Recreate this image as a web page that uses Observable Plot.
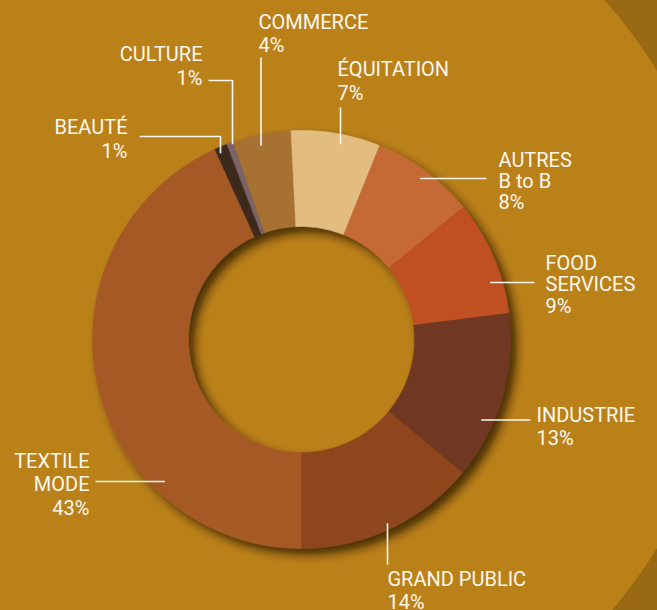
<!DOCTYPE html>
<html><head><meta charset="utf-8">
<script src="https://cdn.jsdelivr.net/npm/d3@7"></script>
<script src="https://cdn.jsdelivr.net/npm/@observablehq/plot@0.6"></script>
<style>
html,body{margin:0;padding:0;overflow:hidden;background:#9A6914;width:657px;height:610px;}
#chart svg{display:block;}
</style>
</head><body><div id="chart"></div>
<script>
// ---- data ----
const categories = ["TEXTILE MODE","BEAUTÉ","CULTURE","COMMERCE","ÉQUITATION","AUTRES B to B","FOOD SERVICES","INDUSTRIE","GRAND PUBLIC"];
const labelLines = [["TEXTILE","MODE"],["BEAUTÉ"],["CULTURE"],["COMMERCE"],["ÉQUITATION"],["AUTRES","B to B"],["FOOD","SERVICES"],["INDUSTRIE"],["GRAND PUBLIC"]];
const shares = [43.2, 1.0, 0.5, 4.5, 6.9, 8.0, 8.9, 13.0, 14.0];
const percentLabels = ["43%","1%","1%","4%","7%","8%","9%","13%","14%"];
const colors = ["#A55A25","#3D2B1F","#7B6468","#A77130","#E3BC80","#C66A36","#C04F20","#703822","#8E461D"];

// ---- layout (pixels) ----
const W = 657, H = 610;
const cx = 301, cy = 339, rOuter = 209, rInner = 113;
const bg = {x: 262, y: 309, r: 461, fill: "#BB8119"};
const layout = [
  {anchor:"end",   x:89,  y:467, lh:23.5, leader:{type:"h", x0:95,  y:481,   r:197}},
  {anchor:"end",   x:127, y:133, lh:24,   leader:{type:"elbow", x0:139, y:136, x:220, r:203}},
  {anchor:"end",   x:202, y:60,  lh:24,   leader:{type:"elbow", x0:208, y:80,  x:232, r:207}},
  {anchor:"start", x:258, y:28,  lh:23,   leader:{type:"v", x:260.5, y0:57,  r:198}},
  {anchor:"start", x:337, y:75,  lh:24,   leader:{type:"v", x:340,   y0:107, r:199}},
  {anchor:"start", x:498, y:166, lh:21,   leader:{type:"h", x0:486, y:178,   r:200}},
  {anchor:"start", x:545, y:269, lh:21.5, leader:{type:"h", x0:534, y:282,   r:197}},
  {anchor:"start", x:536, y:421, lh:23,   leader:{type:"h", x0:530, y:419.5, r:197}},
  {anchor:"start", x:387, y:585, lh:23,   leader:{type:"v", x:387,   y0:564, r:203}}
];

// ---- slices from pie angles ----
const arcs = d3.pie().sort(null).startAngle(Math.PI).endAngle(3 * Math.PI)(shares);
const slicePts = [];
arcs.forEach((a, i) => {
  const n = Math.max(2, Math.ceil((a.endAngle - a.startAngle) / (Math.PI / 360)));
  const pts = [];
  for (let k = 0; k <= n; k++) {
    const t = a.startAngle + (a.endAngle - a.startAngle) * k / n;
    pts.push({name: categories[i], x: cx + rOuter * Math.sin(t), y: cy - rOuter * Math.cos(t)});
  }
  for (let k = n; k >= 0; k--) {
    const t = a.startAngle + (a.endAngle - a.startAngle) * k / n;
    pts.push({name: categories[i], x: cx + rInner * Math.sin(t), y: cy - rInner * Math.cos(t)});
  }
  pts.push({...pts[0]});
  slicePts.push(...pts);
});

// ---- labels ----
const textRows = [];
layout.forEach((L, i) => {
  const lines = [...labelLines[i], percentLabels[i]];
  lines.forEach((t, j) => textRows.push({text: t, x: L.x, y: L.y + j * L.lh, anchor: L.anchor}));
});

// ---- leaders ----
const leaderPts = [];
layout.forEach((L, i) => {
  const ld = L.leader, id = categories[i];
  if (ld.type === "h") {
    const dy = ld.y - cy;
    const sx = ld.x0 > cx ? 1 : -1;
    leaderPts.push({id, x: ld.x0, y: ld.y}, {id, x: cx + sx * Math.sqrt(ld.r * ld.r - dy * dy), y: ld.y});
  } else if (ld.type === "v") {
    const dx = ld.x - cx;
    const sy = ld.y0 > cy ? 1 : -1;
    leaderPts.push({id, x: ld.x, y: ld.y0}, {id, x: ld.x, y: cy + sy * Math.sqrt(ld.r * ld.r - dx * dx)});
  } else {
    const dx = ld.x - cx;
    leaderPts.push({id, x: ld.x0, y: ld.y}, {id, x: ld.x, y: ld.y}, {id, x: ld.x, y: cy - Math.sqrt(ld.r * ld.r - dx * dx)});
  }
});

const textColor = "#FBF7EF";
const chart = Plot.plot({
  width: W, height: H, margin: 0,
  style: {background: "transparent", overflow: "visible"},
  x: {domain: [0, W], range: [0, W], axis: null},
  y: {domain: [0, H], range: [0, H], axis: null},
  color: {domain: categories, range: colors},
  marks: [
    Plot.dot([bg], {x: "x", y: "y", r: bg.r, fill: bg.fill, stroke: "none"}),
    Plot.line(slicePts, {x: "x", y: "y", z: "name", fill: "name", stroke: "name", strokeWidth: 0.5}),
    Plot.line(leaderPts, {x: "x", y: "y", z: "id", stroke: textColor, strokeWidth: 1.6, strokeLinecap: "butt", strokeLinejoin: "miter"}),
    Plot.text(textRows.filter(d => d.anchor === "start"), {x: "x", y: "y", text: "text", textAnchor: "start", lineAnchor: "bottom", fill: textColor, fontSize: 20, fontFamily: "Roboto"}),
    Plot.text(textRows.filter(d => d.anchor === "end"), {x: "x", y: "y", text: "text", textAnchor: "end", lineAnchor: "bottom", fill: textColor, fontSize: 20, fontFamily: "Roboto"})
  ]
});

// drop shadow on the ring
const ns = "http://www.w3.org/2000/svg";
const defs = document.createElementNS(ns, "defs");
defs.innerHTML = '<filter id="ringShadow" x="-20%" y="-20%" width="140%" height="140%"><feDropShadow dx="6" dy="6" stdDeviation="5" flood-color="#2A1400" flood-opacity="0.8"/></filter>';
chart.insertBefore(defs, chart.firstChild);
const g = chart.querySelectorAll('g[aria-label="line"]')[0];
if (g) g.setAttribute("filter", "url(#ringShadow)");
document.getElementById("chart").appendChild(chart);
</script>
</body></html>
